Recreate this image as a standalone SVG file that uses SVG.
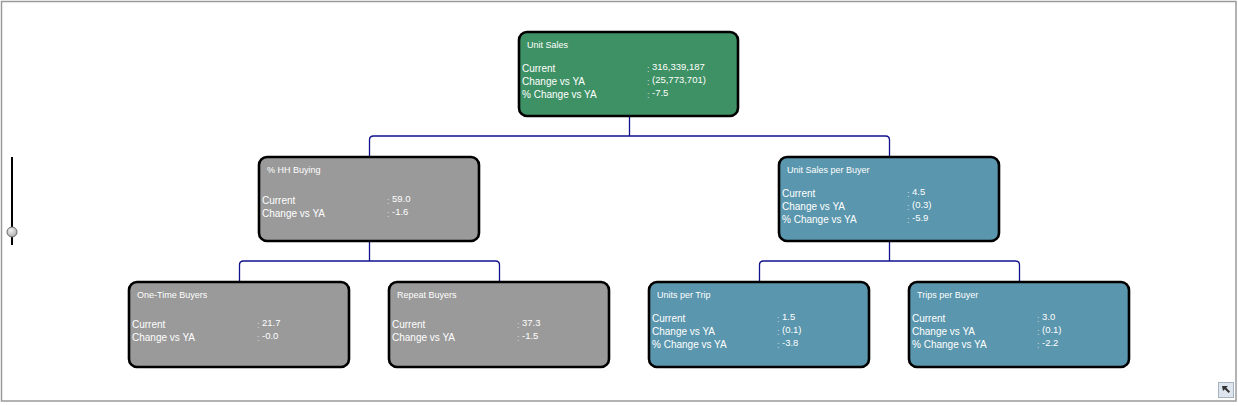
<svg xmlns="http://www.w3.org/2000/svg" width="1238" height="406" viewBox="0 0 1238 406">
<style>
.frame{fill:#fff;stroke:#9a9a9a;stroke-width:1.5}
.box{stroke:#000;stroke-width:2.6}
.g{fill:#3e9164}.gr{fill:#9a9a9a}.b{fill:#5a96ad}
text{font-family:"Liberation Sans",Arial,sans-serif;fill:#fff}
.t{font-size:9px}
.l{font-size:10px}
.v{font-size:9.5px}
.c{font-size:9px;fill:#d8d8d8}
.conn{fill:none;stroke:#12128f;stroke-width:1.3}
</style>
<defs>
<radialGradient id="knob" cx="0.4" cy="0.35" r="0.7">
<stop offset="0" stop-color="#f2f2f2"/><stop offset="1" stop-color="#a8a8a8"/>
</radialGradient>
</defs>
<rect class="frame" x="1.5" y="1.5" width="1234.5" height="399.5"/>
<g id="connectors">
<path class="conn" d="M629.5 116 V136 M369.5 157 V140 Q369.5 136 373.5 136 H885.5 Q889.5 136 889.5 140 V157"/>
<path class="conn" d="M369.5 241 V261 M239.5 282 V265 Q239.5 261 243.5 261 H495.5 Q499.5 261 499.5 265 V282"/>
<path class="conn" d="M889.5 241 V261 M759.5 282 V265 Q759.5 261 763.5 261 H1015.5 Q1019.5 261 1019.5 265 V282"/>
</g>
<g id="n-unit-sales">
<rect class="box g" x="519" y="32" width="219" height="84" rx="8"/>
<text class="t" x="527" y="48">Unit Sales</text>
<text class="l" x="522" y="72">Current</text><text class="c" x="647" y="72">:</text><text class="v" x="652" y="70">316,339,187</text>
<text class="l" x="522" y="85">Change vs YA</text><text class="c" x="647" y="85">:</text><text class="v" x="652" y="83">(25,773,701)</text>
<text class="l" x="522" y="98">% Change vs YA</text><text class="c" x="647" y="98">:</text><text class="v" x="652" y="96">-7.5</text>
</g>
<g id="n-hh-buying">
<rect class="box gr" x="259" y="157" width="220" height="84" rx="8"/>
<text class="t" x="267" y="173">% HH Buying</text>
<text class="l" x="262" y="203.5">Current</text><text class="c" x="387" y="203.5">:</text><text class="v" x="392" y="201.5">59.0</text>
<text class="l" x="262" y="216.5">Change vs YA</text><text class="c" x="387" y="216.5">:</text><text class="v" x="392" y="214.5">-1.6</text>
</g>
<g id="n-unit-sales-per-buyer">
<rect class="box b" x="779" y="157" width="220" height="84" rx="8"/>
<text class="t" x="787" y="173">Unit Sales per Buyer</text>
<text class="l" x="782" y="197">Current</text><text class="c" x="907" y="197">:</text><text class="v" x="912" y="195">4.5</text>
<text class="l" x="782" y="210">Change vs YA</text><text class="c" x="907" y="210">:</text><text class="v" x="912" y="208">(0.3)</text>
<text class="l" x="782" y="223">% Change vs YA</text><text class="c" x="907" y="223">:</text><text class="v" x="912" y="221">-5.9</text>
</g>
<g id="n-one-time-buyers">
<rect class="box gr" x="129" y="282" width="220" height="85" rx="8"/>
<text class="t" x="137" y="298">One-Time Buyers</text>
<text class="l" x="132" y="328">Current</text><text class="c" x="257" y="328">:</text><text class="v" x="262" y="326">21.7</text>
<text class="l" x="132" y="341">Change vs YA</text><text class="c" x="257" y="341">:</text><text class="v" x="262" y="339">-0.0</text>
</g>
<g id="n-repeat-buyers">
<rect class="box gr" x="389" y="282" width="220" height="85" rx="8"/>
<text class="t" x="397" y="298">Repeat Buyers</text>
<text class="l" x="392" y="328">Current</text><text class="c" x="517" y="328">:</text><text class="v" x="522" y="326">37.3</text>
<text class="l" x="392" y="341">Change vs YA</text><text class="c" x="517" y="341">:</text><text class="v" x="522" y="339">-1.5</text>
</g>
<g id="n-units-per-trip">
<rect class="box b" x="649" y="282" width="220" height="85" rx="8"/>
<text class="t" x="657" y="298">Units per Trip</text>
<text class="l" x="652" y="322">Current</text><text class="c" x="777" y="322">:</text><text class="v" x="782" y="320">1.5</text>
<text class="l" x="652" y="335">Change vs YA</text><text class="c" x="777" y="335">:</text><text class="v" x="782" y="333">(0.1)</text>
<text class="l" x="652" y="348">% Change vs YA</text><text class="c" x="777" y="348">:</text><text class="v" x="782" y="346">-3.8</text>
</g>
<g id="n-trips-per-buyer">
<rect class="box b" x="909" y="282" width="220" height="85" rx="8"/>
<text class="t" x="917" y="298">Trips per Buyer</text>
<text class="l" x="912" y="322">Current</text><text class="c" x="1037" y="322">:</text><text class="v" x="1042" y="320">3.0</text>
<text class="l" x="912" y="335">Change vs YA</text><text class="c" x="1037" y="335">:</text><text class="v" x="1042" y="333">(0.1)</text>
<text class="l" x="912" y="348">% Change vs YA</text><text class="c" x="1037" y="348">:</text><text class="v" x="1042" y="346">-2.2</text>
</g>
<g id="zoom-slider">
<line x1="12" y1="157" x2="12" y2="245" stroke="#000" stroke-width="2"/>
<circle cx="12" cy="232" r="5" fill="url(#knob)" stroke="#6a6a6a" stroke-width="1"/>
</g>
<g id="corner-icon">
<rect x="1218.5" y="382.5" width="15" height="15" fill="#dde6ee" stroke="#a6b4c2" stroke-width="1"/>
<path d="M1222 386 L1228 386 L1226.2 387.8 L1230 391.6 L1228.6 393 L1224.8 389.2 L1223 391 Z" fill="#333"/>
</g>
</svg>
